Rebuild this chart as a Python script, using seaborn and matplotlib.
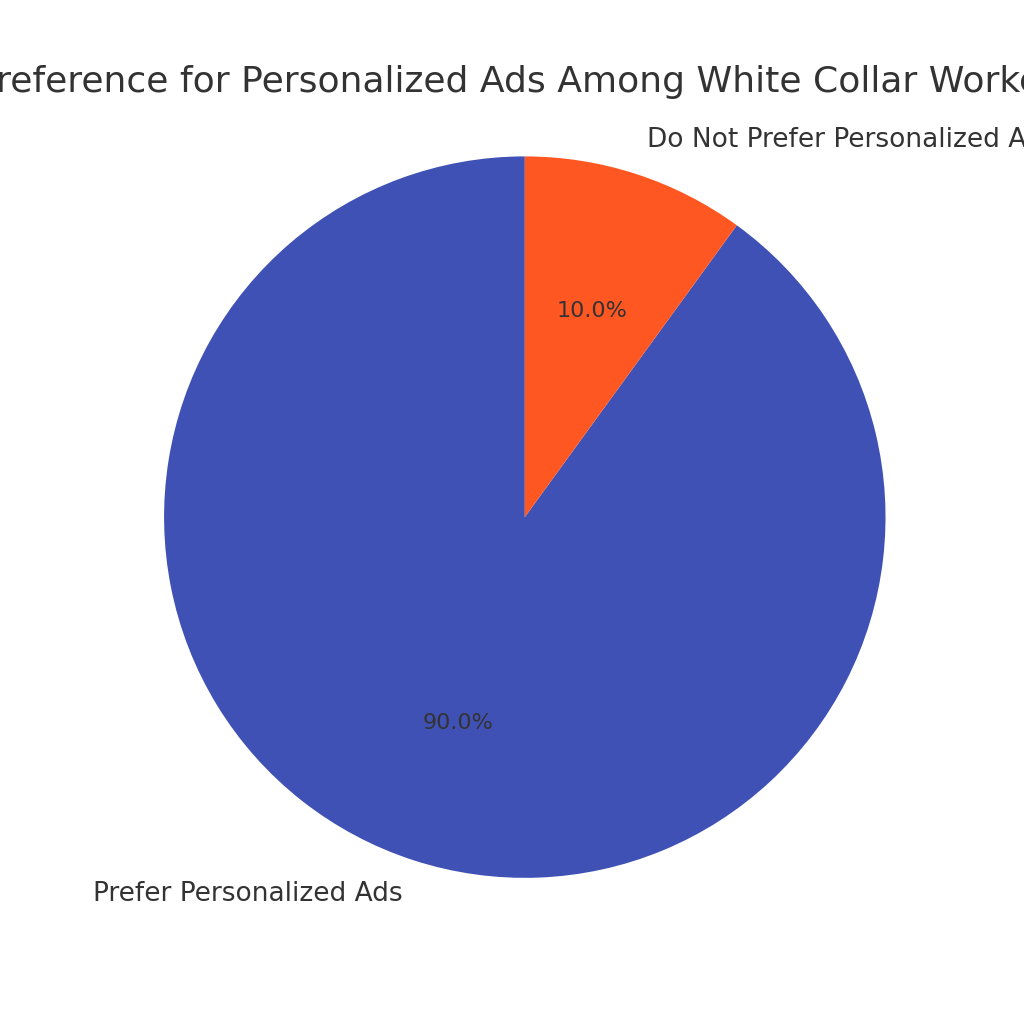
import matplotlib
matplotlib.use('Agg')
import matplotlib.pyplot as plt
import seaborn as sns

sns.set_theme(style='white')
plt.rcParams['font.family'] = ['DejaVu Sans']
plt.rcParams['text.color'] = '#333333'

labels = ['Prefer Personalized Ads', 'Do Not Prefer Personalized Ads']
sizes = [90, 10]
colors = ['#3F51B5', '#FF5722']

fig, ax = plt.subplots(figsize=(10.24, 10.24), dpi=100)
wedges, texts, autotexts = ax.pie(sizes, labels=labels, colors=colors, autopct='%1.1f%%',
                                  startangle=90, wedgeprops={'linewidth': 0},
                                  textprops={'fontsize': 16, 'color': '#333333'})
for t in texts:
    t.set_fontsize(19)
ax.set_title('Preference for Personalized Ads Among White Collar Workers', fontsize=26,
             color='#333333', pad=22)
ax.axis('equal')
fig.savefig('out.png', dpi=100)
